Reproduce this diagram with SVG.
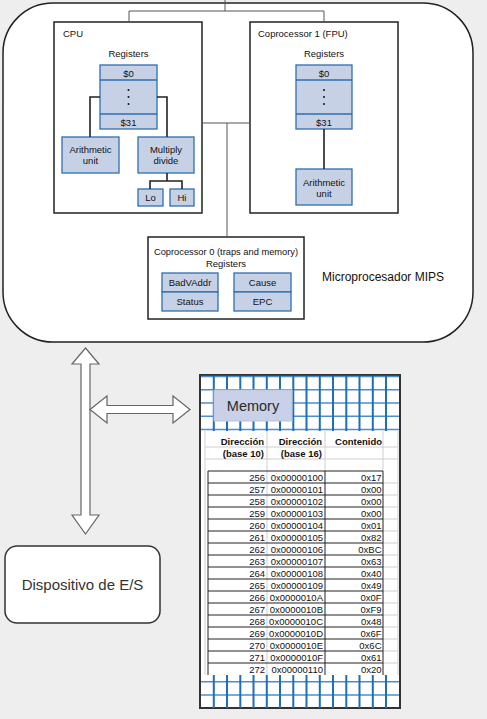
<svg xmlns="http://www.w3.org/2000/svg" width="487" height="719" viewBox="0 0 487 719">
<style>
text{font-family:"Liberation Sans",Arial,sans-serif;fill:#111}
.s{font-size:9.5px}
.c{text-anchor:middle}
.e{text-anchor:end}
.box{fill:#fff;stroke:#222;stroke-width:1.5}
.reg{fill:#c7d1e6;stroke:#2f6fb0;stroke-width:1.3}
.ln{fill:none;stroke:#222;stroke-width:1.6}
.thin{fill:none;stroke:#555;stroke-width:1}
.arr{fill:#fff;stroke:#666;stroke-width:1.2}
.gv{stroke:#1f6fb8;stroke-width:2}
.gh{stroke:#4d8fcc;stroke-width:1.5}
.gy{stroke:#cfcfcf;stroke-width:1}
.bk{stroke:#222;stroke-width:1}
.t{font-size:9.5px}
.tb{font-size:9.5px;font-weight:bold}
</style>
<rect x="0" y="0" width="487" height="719" fill="#eeeeee"/>

<g id="mips">
<rect x="3" y="3" width="470" height="339" rx="50" ry="50" class="box"/>
<text x="322" y="281" style="font-size:12px">Microprocesador MIPS</text>
</g>

<g id="cpu">
<rect x="54" y="22" width="148" height="191" class="box"/>
<text x="63" y="37" class="s">CPU</text>
<text x="128.5" y="57" class="s c">Registers</text>
<rect x="100" y="65" width="57" height="64" class="reg"/>
<path d="M100,80 H157 M100,114 H157" stroke="#2f6fb0" stroke-width="1.3"/>
<text x="128.5" y="76.5" class="s c">$0</text>
<circle cx="128.5" cy="90" r="1" fill="#111"/><circle cx="128.5" cy="97" r="1" fill="#111"/><circle cx="128.5" cy="104" r="1" fill="#111"/>
<text x="128.5" y="125.5" class="s c">$31</text>
</g>
<g id="cpu-alu">
<rect x="62" y="137" width="57" height="36" class="reg"/>
<text x="90.5" y="152.5" class="s c">Arithmetic</text>
<text x="90.5" y="164" class="s c">unit</text>
</g>
<g id="cpu-mul">
<rect x="138" y="137" width="56" height="36" class="reg"/>
<text x="166" y="152.5" class="s c">Multiply</text>
<text x="166" y="164" class="s c">divide</text>
</g>
<g id="cpu-lo">
<rect x="138" y="189" width="25" height="17" class="reg"/>
<text x="150.5" y="201" class="s c">Lo</text>
</g>
<g id="cpu-hi">
<rect x="170" y="189" width="24" height="17" class="reg"/>
<text x="182" y="201" class="s c">Hi</text>
</g>

<g id="fpu">
<rect x="250" y="22" width="148" height="191" class="box"/>
<text x="258" y="37" class="s">Coprocessor 1 (FPU)</text>
<text x="324" y="57" class="s c">Registers</text>
<rect x="296" y="65" width="56" height="64" class="reg"/>
<path d="M296,80 H352 M296,114 H352" stroke="#2f6fb0" stroke-width="1.3"/>
<text x="324" y="76.5" class="s c">$0</text>
<circle cx="324" cy="90" r="1" fill="#111"/><circle cx="324" cy="97" r="1" fill="#111"/><circle cx="324" cy="104" r="1" fill="#111"/>
<text x="324" y="125.5" class="s c">$31</text>
</g>
<g id="fpu-alu">
<rect x="296" y="169" width="56" height="36" class="reg"/>
<text x="324" y="185.5" class="s c">Arithmetic</text>
<text x="324" y="196.5" class="s c">unit</text>
</g>

<g id="cop0">
<rect x="148" y="237" width="156" height="82" class="box"/>
<text x="226" y="255" class="c" style="font-size:9.3px">Coprocessor 0 (traps and memory)</text>
<text x="226" y="266.5" class="s c">Registers</text>
<rect x="162" y="273" width="56" height="19" class="reg"/>
<rect x="162" y="292" width="56" height="19" class="reg"/>
<rect x="234" y="273" width="57" height="19" class="reg"/>
<rect x="234" y="292" width="57" height="19" class="reg"/>
<text x="190" y="286" class="s c">BadVAddr</text>
<text x="190" y="305" class="s c">Status</text>
<text x="262.5" y="286" class="s c">Cause</text>
<text x="262.5" y="305" class="s c">EPC</text>
</g>

<g id="io">
<rect x="5" y="546" width="155" height="77" rx="12" ry="12" fill="#fff" stroke="#333" stroke-width="1.5"/>
<text x="82.5" y="590" class="c" style="font-size:15px;fill:#333">Dispositivo de E/S</text>
</g>

<g id="memory">
<rect x="200" y="375" width="200" height="333" fill="#fff" stroke="#333" stroke-width="2"/>
<g class="gh">
<line x1="201" y1="376.5" x2="399" y2="376.5"/>
<line x1="201" y1="389.7" x2="399" y2="389.7"/>
<line x1="201" y1="403" x2="399" y2="403"/>
<line x1="201" y1="416.3" x2="399" y2="416.3"/>
<line x1="201" y1="429.6" x2="399" y2="429.6"/>
<line x1="201" y1="681.7" x2="399" y2="681.7"/>
<line x1="201" y1="695" x2="399" y2="695"/>
</g>
<g class="gv">
<path d="M213.8,376 V708 M227,376 V708 M240.3,376 V708 M253.5,376 V708 M266.8,376 V708 M280,376 V708 M293.3,376 V708 M306.5,376 V708 M319.8,376 V708 M333,376 V708 M346.3,376 V708 M359.5,376 V708 M372.8,376 V708 M386,376 V708"/>
</g>
<rect x="214" y="390" width="78" height="31" fill="#c8d1e7" stroke="#b7c3dd" stroke-width="1"/>
<text x="253" y="410.5" class="c" style="font-size:14.5px;fill:#2a2a2a">Memory</text>
<rect x="203" y="431" width="196" height="244" fill="#fff"/>
<g class="gy">
<line x1="205" y1="431" x2="205" y2="675"/>
<line x1="267" y1="431" x2="267" y2="675"/>
<line x1="325" y1="431" x2="325" y2="471"/>
<line x1="383" y1="431" x2="383" y2="471"/>
<line x1="398" y1="431" x2="398" y2="675"/>
<line x1="205" y1="447" x2="398" y2="447"/>
<line x1="205" y1="459" x2="398" y2="459"/>
<path d="M383,483 H398 M383,495 H398 M383,507 H398 M383,519 H398 M383,531 H398 M383,543 H398 M383,555 H398 M383,567 H398 M383,579 H398 M383,591 H398 M383,603 H398 M383,615 H398 M383,627 H398 M383,639 H398 M383,651 H398 M383,663 H398"/>
</g>
<g class="bk">
<path d="M208,471 V675 M325,471 V675 M383,471 V675"/>
<path d="M208,471 H383 M208,483 H383 M208,495 H383 M208,507 H383 M208,519 H383 M208,531 H383 M208,543 H383 M208,555 H383 M208,567 H383 M208,579 H383 M208,591 H383 M208,603 H383 M208,615 H383 M208,627 H383 M208,639 H383 M208,651 H383 M208,663 H383"/>
</g>
<text x="264" y="445" class="tb e">Dirección</text>
<text x="264" y="457" class="tb e">(base 10)</text>
<text x="322" y="445" class="tb e">Dirección</text>
<text x="322" y="457" class="tb e">(base 16)</text>
<text x="382" y="445" class="tb e">Contenido</text>
<g class="t">
<text x="265" y="480.5" class="e">256</text><text x="323" y="480.5" class="e">0x00000100</text><text x="381.5" y="480.5" class="e">0x17</text>
<text x="265" y="492.5" class="e">257</text><text x="323" y="492.5" class="e">0x00000101</text><text x="381.5" y="492.5" class="e">0x00</text>
<text x="265" y="504.5" class="e">258</text><text x="323" y="504.5" class="e">0x00000102</text><text x="381.5" y="504.5" class="e">0x00</text>
<text x="265" y="516.5" class="e">259</text><text x="323" y="516.5" class="e">0x00000103</text><text x="381.5" y="516.5" class="e">0x00</text>
<text x="265" y="528.5" class="e">260</text><text x="323" y="528.5" class="e">0x00000104</text><text x="381.5" y="528.5" class="e">0x01</text>
<text x="265" y="540.5" class="e">261</text><text x="323" y="540.5" class="e">0x00000105</text><text x="381.5" y="540.5" class="e">0x82</text>
<text x="265" y="552.5" class="e">262</text><text x="323" y="552.5" class="e">0x00000106</text><text x="381.5" y="552.5" class="e">0xBC</text>
<text x="265" y="564.5" class="e">263</text><text x="323" y="564.5" class="e">0x00000107</text><text x="381.5" y="564.5" class="e">0x63</text>
<text x="265" y="576.5" class="e">264</text><text x="323" y="576.5" class="e">0x00000108</text><text x="381.5" y="576.5" class="e">0x40</text>
<text x="265" y="588.5" class="e">265</text><text x="323" y="588.5" class="e">0x00000109</text><text x="381.5" y="588.5" class="e">0x49</text>
<text x="265" y="600.5" class="e">266</text><text x="323" y="600.5" class="e">0x0000010A</text><text x="381.5" y="600.5" class="e">0x0F</text>
<text x="265" y="612.5" class="e">267</text><text x="323" y="612.5" class="e">0x0000010B</text><text x="381.5" y="612.5" class="e">0xF9</text>
<text x="265" y="624.5" class="e">268</text><text x="323" y="624.5" class="e">0x0000010C</text><text x="381.5" y="624.5" class="e">0x48</text>
<text x="265" y="636.5" class="e">269</text><text x="323" y="636.5" class="e">0x0000010D</text><text x="381.5" y="636.5" class="e">0x6F</text>
<text x="265" y="648.5" class="e">270</text><text x="323" y="648.5" class="e">0x0000010E</text><text x="381.5" y="648.5" class="e">0x6C</text>
<text x="265" y="660.5" class="e">271</text><text x="323" y="660.5" class="e">0x0000010F</text><text x="381.5" y="660.5" class="e">0x61</text>
<text x="265" y="672.5" class="e">272</text><text x="323" y="672.5" class="e">0x00000110</text><text x="381.5" y="672.5" class="e">0x20</text>
</g>
</g>

<g id="connectors">
<path class="thin" d="M225,0 V11 M129,22 V11 H324 V22 M202,123 H250 M227,123 V237"/>
<path class="ln" d="M100,97 H90 V137 M157,97 H167 V137 M167,173 V181 M150,189 V181 H182 V189 M324,129 V169"/>
<polygon class="arr" points="85.5,348 99,364 90,364 90,515 99,515 85.5,534 72,515 81,515 81,364 72,364"/>
<polygon class="arr" points="90,409.5 107,396 107,405.5 173,405.5 173,396 190,409.5 173,423 173,413.5 107,413.5 107,423"/>
</g>
</svg>
